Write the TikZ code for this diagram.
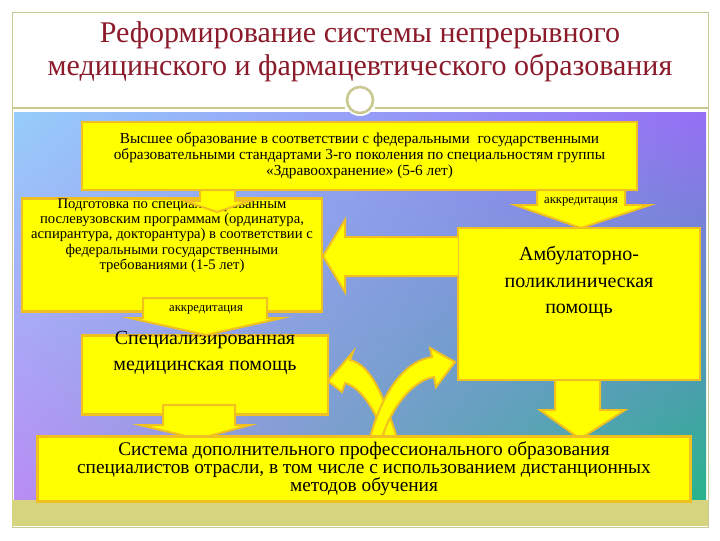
\documentclass[tikz,border=0pt]{standalone}
\usepackage{fontspec}
\setmainfont{Liberation Serif}
\usetikzlibrary{arrows.meta,shadings}
\definecolor{ttl}{HTML}{8B1A2A}
\definecolor{olv}{HTML}{C8C890}
\definecolor{band}{HTML}{D6D47E}
\definecolor{yel}{HTML}{FFFF00}
\definecolor{org}{HTML}{F0C020}
\definecolor{cul}{RGB}{150,205,250}
\definecolor{cur}{RGB}{150,110,245}
\definecolor{cll}{RGB}{185,140,245}
\definecolor{clr}{RGB}{40,180,140}
\tikzset{
 ybox/.style={draw=org,fill=yel,line width=2.2pt,inner sep=0pt,align=center},
 yarr/.style={draw=org,fill=yel,line width=1.5pt,line join=miter},
}
\begin{document}
\begin{tikzpicture}[x=0.75pt,y=-0.75pt]
\useasboundingbox (0,0) rectangle (720,540);
\fill[white] (0,0) rectangle (720,540);
\draw[olv,line width=0.6pt] (12,12) rectangle (708,527);
% title
\node[ttl,font=\fontsize{22.5}{25}\selectfont,align=center] (title) at (360,52) {Реформирование системы непрерывного\\медицинского и фармацевтического образования};
% panel
\shade[upper left=cul,upper right=cur,lower left=cll,lower right=clr] (14,112) rectangle (706,500);
\fill[band] (12,500) rectangle (708,526);
\draw[olv,line width=1pt] (12,108) -- (345,108) (375,108) -- (708,108);
\fill[white] (360,100) circle (16);
\draw[olv,line width=2pt] (360,100) circle (13);
\draw[white,line width=0.6pt] (360,100) circle (11);
% boxes
\node[ybox,minimum width=555*0.75pt,minimum height=68*0.75pt,font=\fontsize{11.5}{12}\selectfont] (b1) at (359.5,156)
 {Высшее образование в соответствии с федеральными \ государственными\\образовательными стандартами 3-го поколения по специальностям группы\\«Здравоохранение» (5-6 лет)};
\node[ybox,minimum width=300*0.75pt,minimum height=86*0.75pt,font=\fontsize{11}{11.5}\selectfont] (b2) at (172,255)
 {Подготовка по специализированным\\послевузовским программам (ординатура,\\аспирантура, докторантура) в соответствии с\\федеральными государственными\\требованиями (1-5 лет)\\[20pt]};
\node[ybox,minimum width=242*0.75pt,minimum height=152*0.75pt,font=\fontsize{15}{20}\selectfont] (amb) at (579,304)
 {Амбулаторно-\\поликлиническая\\помощь\\[16pt]};
\node[ybox,minimum width=246*0.75pt,minimum height=70*0.75pt,font=\fontsize{15}{19}\selectfont,anchor=north] (spec) at (205,334)
 {\\[-12pt]Специализированная\\медицинская помощь\\[14pt]};
% arrows
\draw[yarr] (200,190)--(235,190)--(235,201)--(250,201)--(217,212)--(185,201)--(200,201)--cycle;
\draw[yarr] (537,190)--(625,190)--(625,205)--(650,205)--(581,228)--(515,205)--(537,205)--cycle;
\node[font=\fontsize{9.5}{10}\selectfont] (acc1) at (581,202) {аккредитация};
\draw[yarr] (458,237)--(345,237)--(345,220)--(323,256)--(345,292)--(345,276)--(458,276);
\draw[yarr] (143,298)--(267,298)--(267,318)--(282,318)--(206,335)--(130,318)--(143,318)--cycle;
\node[font=\fontsize{9.5}{10}\selectfont] (acc2) at (206,310) {аккредитация};
\draw[yarr] (163,405)--(235,405)--(235,425)--(250,425)--(198,439)--(140,425)--(163,425)--cycle;
\draw[yarr] (555,380)--(600,380)--(600,410)--(625,410)--(580,439)--(540,410)--(555,410)--cycle;
% curved arrows
\draw[yarr] (397,438) .. controls (385,400) and (372,365) .. (350,360) -- (353,352) -- (328,381) -- (342,392) -- (345,383)
 .. controls (362,388) and (375,410) .. (385,438) -- cycle;
\draw[yarr] (370,438) .. controls (380,400) and (400,362) .. (432,357) -- (430,348) -- (455,362) -- (436,387) -- (434,377)
 .. controls (412,380) and (390,410) .. (382,438) -- cycle;
\node[ybox,minimum width=653*0.75pt,minimum height=65*0.75pt,font=\fontsize{14.5}{13.5}\selectfont] (bot) at (364,469)
 {Система дополнительного профессионального образования\\специалистов отрасли, в том числе с использованием дистанционных\\методов обучения};
\end{tikzpicture}
\end{document}
